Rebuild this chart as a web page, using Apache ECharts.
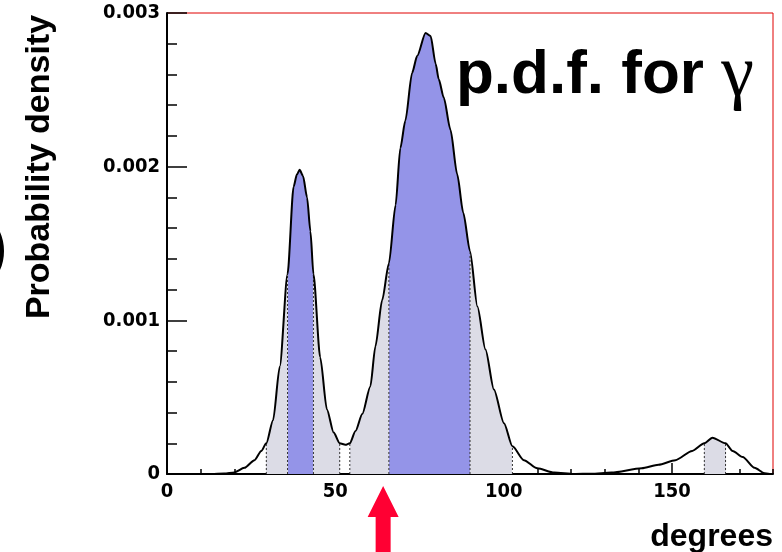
<!DOCTYPE html>
<html lang="en">
<head>
<meta charset="UTF-8" />
<title>p.d.f. for gamma</title>
<script src="https://cdn.jsdelivr.net/npm/echarts@6/dist/echarts.min.js"></script>
</head>
<body style="margin:0">
<div id="main" style="width:782px;height:552px"></div>
<script>
// curve: angle (degrees) and probability density
let angles = [14, 17, 20, 23, 26, 28, 29.5, 31.5, 33.5, 35.8, 37.6, 38.6, 39.4, 40.4, 41.6, 42.6,
  43.5, 45.5, 47.5, 49.5, 51.3, 53, 54.3, 56, 58, 60.4, 61.9, 63.9, 65.9, 67.9, 69.3, 70.8,
  72.8, 74.3, 76.8, 78.3, 79.8, 80.7, 82.2, 84.2, 86.2, 88, 90, 92.2, 94.6, 97.1, 100.1,
  102.6, 106, 110, 115, 121, 126, 132, 141, 146, 151, 156, 159.6, 162, 165.9, 168, 171,
  174.5, 177.5, 179]
let density = [0, 0.000003, 0.00001, 0.00004, 0.00009, 0.00015, 0.0002, 0.00035, 0.0007, 0.0013,
  0.00187, 0.00195, 0.00198, 0.00194, 0.0018, 0.00158, 0.0013, 0.00076, 0.00042, 0.00027,
  0.0002, 0.00019, 0.0002, 0.00028, 0.00039, 0.00057, 0.00083, 0.00113, 0.00137, 0.00175,
  0.00212, 0.0023, 0.00261, 0.00272, 0.00287, 0.00285, 0.00267, 0.00257, 0.00245, 0.00224,
  0.00195, 0.0017, 0.00145, 0.00109, 0.00081, 0.00055, 0.00033, 0.00018, 0.00009, 0.000037,
  0.000009, 0, 0.000002, 0.000009, 0.000037, 0.00006, 0.00009, 0.00015, 0.0002, 0.000236,
  0.0002, 0.00015, 0.00011, 0.00004, 0.000005, 0]

// shaded intervals (degrees)
let innerBands = [[35.8, 43.5], [65.9, 90]]
let outerBands = [[29.5, 35.8], [43.5, 51.3], [54.3, 65.9], [90, 102.6], [159.6, 165.9]]
let xTicks = [0, 50, 100, 150]
let arrowAt = 64.2

let curve = angles.map((a, i) => [a, density[i]])
let edges = []
for (let b of innerBands.concat(outerBands)) {
  for (let e of b) {
    if (!edges.some(d => d[0] === e)) edges.push([e, density[angles.indexOf(e)]])
  }
}

let font = '"Liberation Sans", Arial, sans-serif'
let tickFont = '"DejaVu Sans Condensed", "Liberation Sans", sans-serif'
let myChart = echarts.init(document.getElementById('main'))

let pieces = innerBands.map(b => ({ gte: b[0], lt: b[1], color: '#9494e8' }))
  .concat(outerBands.map(b => ({ gte: b[0], lt: b[1], color: '#dcdce6' })))

myChart.setOption({
  animation: false,
  grid: {
    left: 167, right: 9, top: 13, bottom: 78,
    show: true, borderColor: '#e00000', borderWidth: 1,
    outerBoundsMode: 'none'
  },
  visualMap: {
    show: false, type: 'piecewise', dimension: 0, seriesIndex: 0,
    pieces: pieces,
    outOfRange: { color: 'rgba(255,255,255,0)' }
  },
  xAxis: [
    {
      type: 'value', min: 0, max: 180, interval: 50, position: 'bottom',
      axisLine: { onZero: false, lineStyle: { color: '#000', width: 2 } },
      axisTick: { inside: true, length: 11, customValues: xTicks, lineStyle: { color: '#000', width: 1.5 } },
      axisLabel: {
        customValues: xTicks, margin: 8,
        color: '#000', fontFamily: tickFont, fontWeight: 'bold', fontSize: 20
      },
      splitLine: { show: false }
    },
    {
      type: 'value', min: 0, max: 180, interval: 10, position: 'bottom',
      axisLine: { show: false },
      axisTick: { inside: true, length: 5, lineStyle: { color: '#000', width: 1.5 } },
      axisLabel: { show: false },
      splitLine: { show: false }
    }
  ],
  yAxis: {
    type: 'value', min: 0, max: 0.003, interval: 0.001,
    axisLine: { show: true, lineStyle: { color: '#000', width: 2 } },
    axisTick: { show: true, inside: true, length: 20, lineStyle: { color: '#000', width: 1.5 } },
    minorTick: { show: true, splitNumber: 5, length: 10, lineStyle: { color: '#000', width: 1.5 } },
    axisLabel: { margin: 7, color: '#000', fontFamily: tickFont, fontWeight: 'bold', fontSize: 20 },
    splitLine: { show: false }
  },
  series: [
    {
      type: 'line', data: curve, smooth: 0.25, smoothMonotone: 'x', showSymbol: false,
      lineStyle: { width: 0 }, areaStyle: { opacity: 1 }, z: 1, silent: true
    },
    {
      type: 'custom', data: edges, z: 2, silent: true,
      renderItem: (params, api) => {
        let p0 = api.coord([api.value(0), 0])
        let p1 = api.coord([api.value(0), api.value(1)])
        return {
          type: 'line',
          shape: { x1: p0[0], y1: p0[1], x2: p1[0], y2: p1[1] },
          style: { stroke: '#333', lineWidth: 1, lineDash: [2, 2] }
        }
      }
    },
    {
      type: 'line', data: curve, smooth: 0.25, smoothMonotone: 'x', showSymbol: false,
      lineStyle: { color: '#000', width: 2 }, z: 3, silent: true
    }
  ]
})

let ax = myChart.convertToPixel({ xAxisIndex: 0 }, arrowAt)
myChart.setOption({
  graphic: [
    {
      type: 'text', x: 456, y: 76,
      style: {
        text: '{a|p.d.f. for }{g|γ}',
        verticalAlign: 'middle', textVerticalAlign: 'middle',
        rich: {
          a: { fontFamily: font, fontWeight: 'bold', fontSize: 62, fill: '#000' },
          g: { fontFamily: '"Liberation Serif", serif', fontSize: 74, fill: '#000' }
        }
      }
    },
    {
      type: 'text', x: 40, y: 167, rotation: Math.PI / 2,
      style: {
        text: 'Probability density', font: 'bold 34px ' + font, fill: '#000',
        align: 'center', textAlign: 'center', verticalAlign: 'middle', textVerticalAlign: 'middle'
      }
    },
    {
      type: 'text', x: 773, y: 537,
      style: {
        text: 'degrees', font: 'bold 32px ' + font, fill: '#000',
        align: 'right', textAlign: 'right', verticalAlign: 'middle', textVerticalAlign: 'middle'
      }
    },
    {
      type: 'circle', shape: { cx: -42, cy: 251, r: 44 },
      style: { fill: 'none', stroke: '#000', lineWidth: 4 }
    },
    {
      type: 'polygon',
      shape: {
        points: [[ax, 486], [ax + 15.5, 517], [ax + 7.5, 517], [ax + 7.5, 560],
          [ax - 7.5, 560], [ax - 7.5, 517], [ax - 15.5, 517]]
      },
      style: { fill: '#ff0033' }
    }
  ]
})
</script>
</body>
</html>
